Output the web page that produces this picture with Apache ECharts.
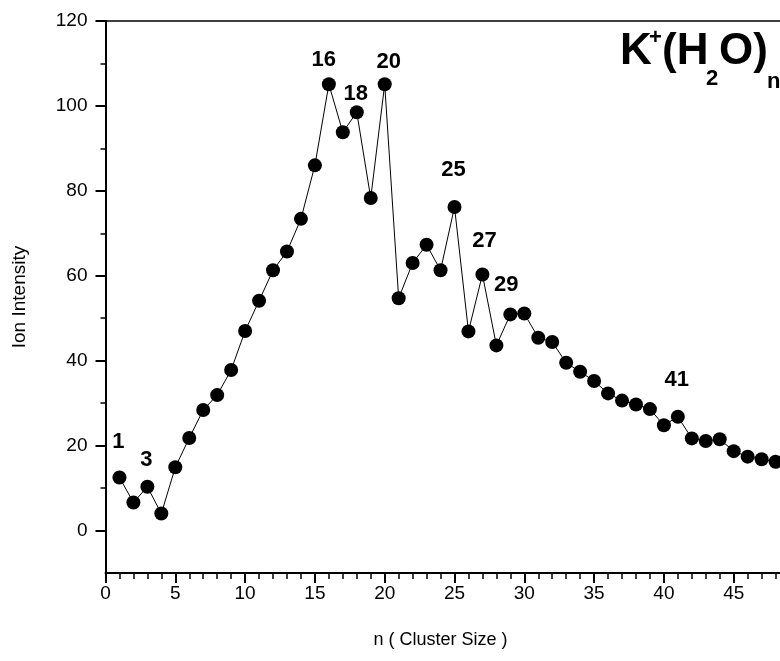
<!DOCTYPE html>
<html>
<head>
<meta charset="utf-8">
<script src="https://cdn.jsdelivr.net/npm/echarts@6/dist/echarts.min.js"></script>
<style>
html,body{margin:0;padding:0;background:#fff;}
#chart{width:780px;height:661px;}
</style>
</head>
<body>
<div id="chart"></div>
<script>
// Cluster sizes n
const clusterSizes = [1,2,3,4,5,6,7,8,9,10,11,12,13,14,15,16,17,18,19,20,21,22,23,24,25,26,27,28,29,30,31,32,33,34,35,36,37,38,39,40,41,42,43,44,45,46,47,48];
// Ion intensity values
const ionIntensity = [12.5,6.6,10.3,4.0,14.9,21.8,28.4,31.9,37.8,47.0,54.1,61.3,65.7,73.4,86.0,105.1,93.8,98.5,78.3,105.1,54.7,63.0,67.3,61.3,76.2,46.9,60.3,43.6,50.9,51.1,45.4,44.4,39.5,37.4,35.2,32.3,30.6,29.7,28.6,24.8,26.8,21.7,21.1,21.5,18.7,17.4,16.8,16.2];
// Highlighted (magic-number) cluster sizes
const labelledSizes = [1,3,16,18,20,25,27,29,41];
// Axis tick values
const yMajorTicks = [0,20,40,60,80,100,120];
const yMinorTicks = [10,30,50,70,90,110];

// label offsets [dx, dy] relative to point centre (style only)
const labelOffsets = {1:[-1,-36],3:[-1,-27],16:[-5,-24],18:[-1,-18],20:[4,-22],25:[-1,-37],27:[2,-34],29:[-4,-29],41:[-1,-37]};

const FONT = "'Liberation Sans', Arial, sans-serif";

const seriesData = clusterSizes.map((n, i) => {
  const item = { value: [n, ionIntensity[i]] };
  if (labelledSizes.includes(n)) {
    const off = labelOffsets[n];
    item.label = {
      show: true, position: 'inside', formatter: String(n),
      offset: off, color: '#000', fontSize: 22, fontWeight: 'bold', fontFamily: FONT
    };
  }
  return item;
});

const chart = echarts.init(document.getElementById('chart'), null, {renderer: 'canvas'});
const tickStyle = {color: '#000', width: 2};
chart.setOption({
  animation: false,
  backgroundColor: '#fff',
  grid: {left: 105.5, top: 21, width: 698, height: 552, containLabel: false, outerBoundsMode: 'none'},
  xAxis: [{
    type: 'value', min: 0, max: 50, interval: 5,
    name: 'n ( Cluster Size )', nameLocation: 'middle', nameGap: 58,
    nameTextStyle: {fontFamily: FONT, fontSize: 18, color: '#000', padding: [0, 28, 0, 0]},
    axisLine: {show: true, onZero: false, lineStyle: {color: '#000', width: 2}},
    axisTick: {show: true, inside: false, length: 10, lineStyle: tickStyle},
    minorTick: {show: true, splitNumber: 5, length: 6, lineStyle: {color: '#000', width: 1.5}},
    axisLabel: {margin: 11, fontFamily: FONT, fontSize: 19, color: '#000'},
    splitLine: {show: false}
  }, {
    type: 'value', min: 0, max: 50, position: 'top',
    axisLine: {show: true, onZero: false, lineStyle: {color: '#000', width: 1.5}},
    axisTick: {show: false}, axisLabel: {show: false}, splitLine: {show: false}
  }],
  yAxis: [{
    type: 'value', min: -10, max: 120, position: 'left',
    name: 'Ion Intensity', nameLocation: 'middle', nameGap: 76, nameRotate: 90,
    nameTextStyle: {fontFamily: FONT, fontSize: 19, color: '#000'},
    axisLine: {show: true, onZero: false, lineStyle: {color: '#000', width: 2}},
    axisTick: {show: true, inside: false, length: 10, customValues: yMajorTicks, lineStyle: tickStyle},
    axisLabel: {margin: 18, customValues: yMajorTicks, fontFamily: FONT, fontSize: 19, color: '#000'},
    splitLine: {show: false}
  }, {
    type: 'value', min: -10, max: 120, position: 'left', offset: 0,
    axisLine: {show: false},
    axisTick: {show: true, inside: false, length: 5, customValues: yMinorTicks, lineStyle: {color: '#000', width: 1.5}},
    axisLabel: {show: false}, splitLine: {show: false}
  }],
  graphic: [
    {type: 'text', left: 620, top: 30, style: {text: 'K', font: "bold 44px " + FONT, fill: '#000'}},
    {type: 'text', left: 649, top: 27, style: {text: '+', font: "bold 22px " + FONT, fill: '#000'}},
    {type: 'text', left: 662, top: 30, style: {text: '(H', font: "bold 44px " + FONT, fill: '#000'}},
    {type: 'text', left: 706, top: 68, style: {text: '2', font: "bold 22px " + FONT, fill: '#000'}},
    {type: 'text', left: 719, top: 30, style: {text: 'O)', font: "bold 44px " + FONT, fill: '#000'}},
    {type: 'text', left: 767, top: 71, style: {text: 'n', font: "bold 22px " + FONT, fill: '#000'}}
  ],
  series: [{
    type: 'line', xAxisIndex: 0, yAxisIndex: 0,
    data: seriesData,
    symbol: 'circle', symbolSize: 14,
    itemStyle: {color: '#000'},
    lineStyle: {color: '#000', width: 1},
    clip: false
  }]
});
</script>
</body>
</html>
